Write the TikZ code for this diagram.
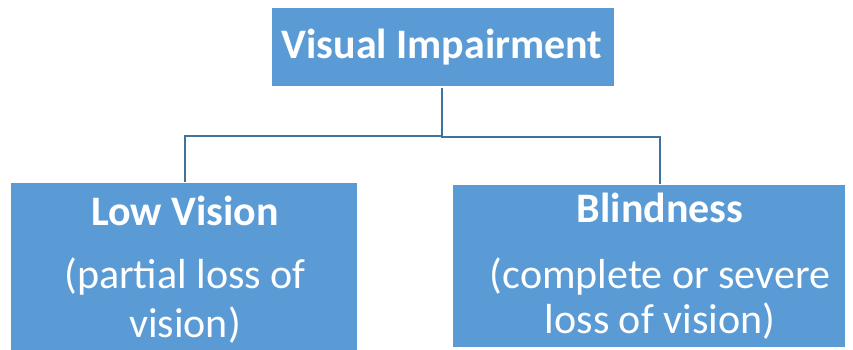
\documentclass[tikz,border=0pt]{standalone}
\usepackage{fontspec}
\setmainfont{Carlito}
\definecolor{boxblue}{HTML}{5B9BD5}
\definecolor{linkblue}{HTML}{41719C}
\begin{document}
\begin{tikzpicture}[x=1pt,y=-1pt,
  box/.style={fill=boxblue, inner sep=0pt, anchor=north west, minimum width=#1},
  lbl/.style={text=white, font=\fontsize{42}{50}\selectfont, anchor=base, inner sep=0pt},
  bl/.style={lbl, font=\fontsize{42}{50}\selectfont\bfseries},
  link/.style={draw=linkblue, line width=2pt}]
\useasboundingbox (0,0) rectangle (853,350);
% boxes
\node[box=342pt, minimum height=78pt] (top) at (272,8) {};
\node[box=346pt, minimum height=167pt] (left) at (11,183) {};
\node[box=392pt, minimum height=162pt] (right) at (453,185) {};
% texts
\node[bl] (ttop) at (442,59) {Visual Impairment};
\node[bl] (tl1) at (185,225) {Low Vision};
\node[lbl] (tl2) at (185,288) {(partial loss of};
\node[lbl] (tl3) at (185,337) {vision)};
\node[bl] (tr1) at (660,222) {Blindness};
\node[lbl] (tr2) at (660,288) {(complete or severe};
\node[lbl] (tr3) at (660,333) {loss of vision)};
% connectors
\coordinate (s) at (442,88);
\coordinate (jl) at (442,136);
\coordinate (jr) at (442,137);
\coordinate (el) at (185,182);
\coordinate (er) at (660,184);
\draw[link] (s) -- (jl) -| (el);
\draw[link] (s) -- (jr) -| (er);
\end{tikzpicture}
\end{document}
